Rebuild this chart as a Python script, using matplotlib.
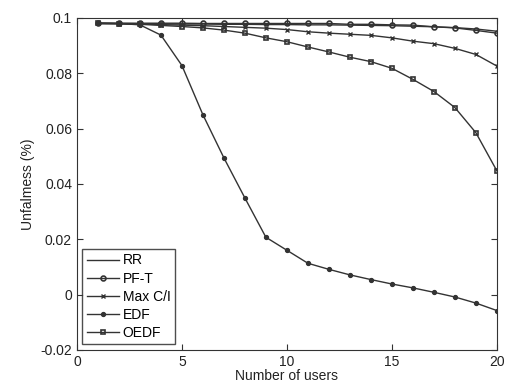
import matplotlib
matplotlib.use("Agg")
import matplotlib.pyplot as plt

plt.rcParams["font.family"] = ["Liberation Sans", "DejaVu Sans"]

users = list(range(1, 21))

rr = [0.0980, 0.0980, 0.0979, 0.0979, 0.0978, 0.0978, 0.0977, 0.0977, 0.0976, 0.0976,
      0.0975, 0.0975, 0.0974, 0.0973, 0.0972, 0.0970, 0.0968, 0.0965, 0.0960, 0.0952]
pf_t = [0.0982, 0.0981, 0.0981, 0.0981, 0.0981, 0.0980, 0.0980, 0.0980, 0.0980, 0.0980,
        0.0980, 0.0980, 0.0977, 0.0977, 0.0975, 0.0974, 0.0968, 0.0964, 0.0955, 0.0945]
max_ci = [0.0980, 0.0979, 0.0978, 0.0976, 0.0974, 0.0972, 0.0969, 0.0966, 0.0963, 0.0958,
          0.0950, 0.0945, 0.0941, 0.0937, 0.0928, 0.0916, 0.0907, 0.0890, 0.0868, 0.0826]
edf = [0.0980, 0.0980, 0.0975, 0.0938, 0.0828, 0.0650, 0.0494, 0.0349, 0.0207, 0.0160,
       0.0113, 0.0091, 0.0071, 0.0054, 0.0038, 0.0024, 0.0008, -0.0009, -0.0031, -0.0058]
oedf = [0.0980, 0.0979, 0.0977, 0.0973, 0.0969, 0.0964, 0.0956, 0.0945, 0.0928, 0.0914,
        0.0895, 0.0877, 0.0858, 0.0842, 0.0818, 0.0778, 0.0734, 0.0676, 0.0585, 0.0447]

fig = plt.figure(figsize=(5.06, 3.90), dpi=100)
ax = fig.add_axes([0.152, 0.103, 0.830, 0.851])

c = "#333333"
ax.plot(users, rr, "-", color=c, lw=1.0, label="RR")
ax.plot(users, pf_t, color=c, lw=1.0, marker="o", ms=3.5, mfc="none", mew=1.2, label="PF-T")
ax.plot(users, max_ci, color=c, lw=1.0, marker="x", ms=2.5, mew=1.0, label="Max C/I")
ax.plot(users, edf, color=c, lw=1.0, marker="o", ms=2.8, label="EDF")
ax.plot(users, oedf, color=c, lw=1.0, marker="s", ms=3.5, mfc="none", mew=1.2, label="OEDF")

ax.set_xlim(0, 20)
ax.set_ylim(-0.02, 0.1)
ax.set_xticks([0, 5, 10, 15, 20])
ax.set_yticks([-0.02, 0, 0.02, 0.04, 0.06, 0.08, 0.1])
ax.set_yticklabels(["-0.02", "0", "0.02", "0.04", "0.06", "0.08", "0.1"])
ax.tick_params(direction="in", top=True, right=True, labelsize=10, length=4, color=c, labelcolor="#222222")
for s in ax.spines.values():
    s.set_color(c)
ax.set_xlabel("Number of users", fontsize=10, labelpad=0, color="#222222")
ax.set_ylabel("Unfalmess (%)", fontsize=10, labelpad=4, color="#222222")

leg = ax.legend(loc="lower left", fontsize=10, frameon=True, fancybox=False,
                edgecolor="#222222", handlelength=2.3, handletextpad=0.3,
                labelspacing=0.3, borderaxespad=0.4, borderpad=0.3)
leg.get_frame().set_linewidth(1.0)

fig.savefig("out.png", dpi=100)
